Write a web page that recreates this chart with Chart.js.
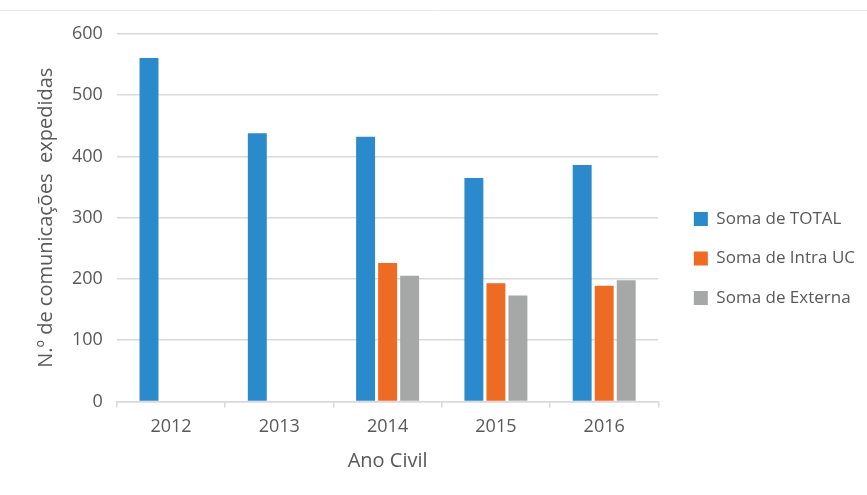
<!DOCTYPE html>
<html>
<head>
<meta charset="utf-8">
<script src="https://cdn.jsdelivr.net/npm/chart.js@4/dist/chart.umd.min.js"></script>
<style>
  html, body { margin: 0; padding: 0; background: #ffffff; }
  #wrap { position: relative; width: 867px; height: 495px; }
</style>
</head>
<body>
<div id="wrap"><canvas id="c" width="867" height="495"></canvas></div>
<script>
const categories = ['2012', '2013', '2014', '2015', '2016'];
const seriesNames = ['Soma de TOTAL', 'Soma de Intra UC', 'Soma de Externa'];
const totalValues = [561, 438, 432, 365, 386];
const intraValues = [null, null, 226, 193, 189];
const externaValues = [null, null, 205, 173, 198];
const yTicks = [0, 100, 200, 300, 400, 500, 600];

const FONT = "'Open Sans', 'Noto Sans', sans-serif";
const TEXT = '#595959';

const topLine = {
  id: 'topLine',
  beforeDraw(chart) {
    const ctx = chart.ctx;
    ctx.save();
    ctx.strokeStyle = '#e8e8e8';
    ctx.lineWidth = 1;
    ctx.beginPath();
    ctx.moveTo(0, 10.5);
    ctx.lineTo(chart.width, 10.5);
    ctx.stroke();
    ctx.restore();
  }
};

const legendShift = {
  id: 'legendShift',
  afterLayout(chart) {
    const lg = chart.legend;
    if (!lg) return;
    const dx = 13, dy = 3;
    lg.left += dx; lg.right += dx;
    lg.top += dy; lg.bottom += dy;
  }
};

new Chart(document.getElementById('c'), {
  type: 'bar',
  data: {
    labels: categories,
    datasets: [
      { label: seriesNames[0], data: totalValues, backgroundColor: '#2a8acb' },
      { label: seriesNames[1], data: intraValues, backgroundColor: '#ee6b24' },
      { label: seriesNames[2], data: externaValues, backgroundColor: '#a6a8a8' }
    ]
  },
  options: {
    responsive: false,
    animation: false,
    devicePixelRatio: 1,
    layout: { padding: { left: 30, right: 15, top: 34, bottom: 18 } },
    datasets: { bar: { categoryPercentage: 0.61, barPercentage: 0.86 } },
    plugins: {
      legend: {
        position: 'right',
        align: 'center',
        labels: {
          boxWidth: 14, boxHeight: 14, padding: 22.5,
          color: TEXT, font: { family: FONT, size: 17 }
        }
      },
      tooltip: { enabled: false }
    },
    scales: {
      x: {
        grid: { display: true, drawOnChartArea: false, drawTicks: true, tickLength: 6, color: '#d9d9d9', lineWidth: 1.5 },
        border: { display: true, color: '#d9d9d9', width: 1.5 },
        ticks: { color: TEXT, font: { family: FONT, size: 18 }, padding: 9 },
        title: { display: true, text: 'Ano Civil', color: TEXT, font: { family: FONT, size: 20 }, padding: { top: 2, bottom: 4 } }
      },
      y: {
        min: 0, max: 600,
        afterBuildTicks(scale) { scale.ticks = yTicks.map(v => ({ value: v })); },
        grid: { color: '#d9d9d9', lineWidth: 1.5, drawTicks: false },
        border: { display: false },
        ticks: { color: TEXT, font: { family: FONT, size: 18 }, padding: 14 },
        title: { display: true, text: 'N.º de comunicações  expedidas', color: TEXT, font: { family: FONT, size: 20 }, padding: { top: 4, bottom: 0 } }
      }
    }
  },
  plugins: [topLine, legendShift]
});
</script>
</body>
</html>
